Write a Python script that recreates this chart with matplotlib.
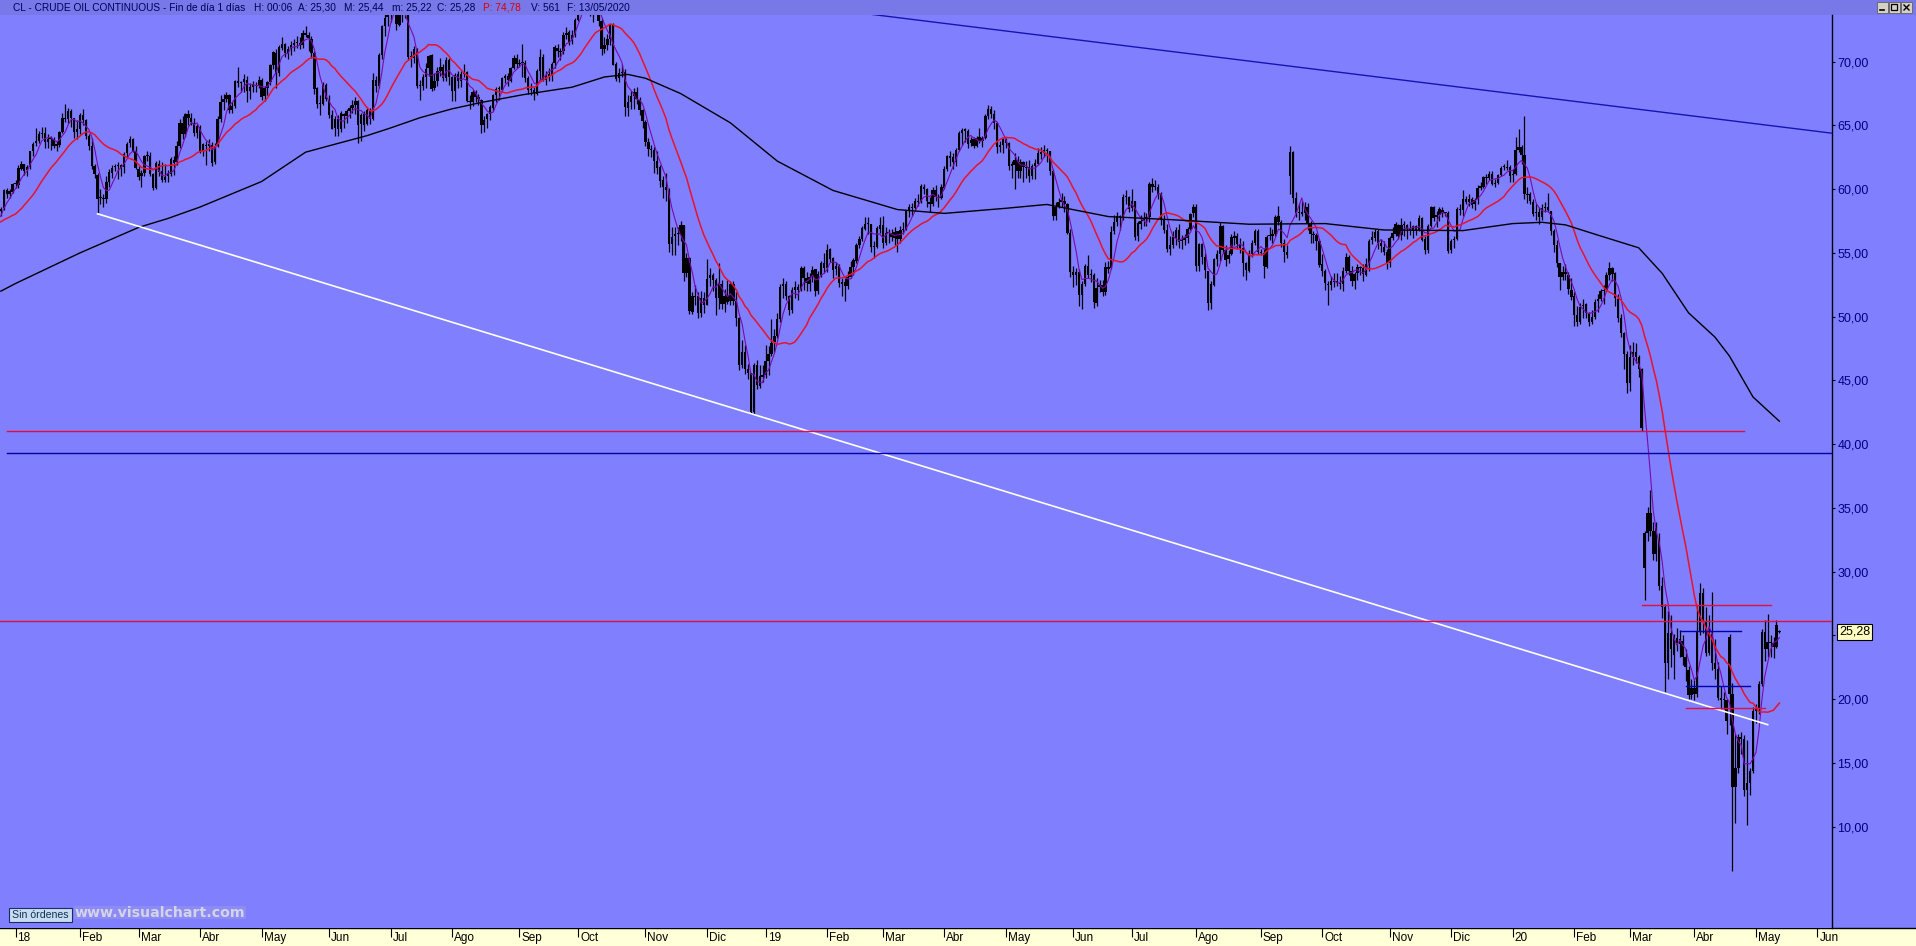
import matplotlib
matplotlib.use("Agg")
import matplotlib.pyplot as plt
import matplotlib.transforms as mtransforms
from matplotlib.patches import Rectangle
import numpy as np
import pandas as pd

plt.rcParams['font.family'] = ['Liberation Sans', 'DejaVu Sans']

# daily bars (open, high, low, close)
# Dec 2017 only warms up the moving averages
bars_2017 = [
    (57.4, 58.5, 57.2, 58.36), (58.3, 58.8, 57.3, 57.47), (57.5, 57.9, 57.0, 57.62), (57.6, 57.7, 55.8, 55.96), (56.0, 56.9, 55.9, 56.69),
    (56.7, 57.6, 56.6, 57.36), (57.4, 58.1, 57.2, 57.99), (58.0, 58.4, 56.9, 57.14), (57.1, 57.4, 56.1, 56.60), (56.6, 57.2, 56.4, 57.04),
    (57.0, 57.5, 56.9, 57.30), (57.3, 57.8, 57.1, 57.16), (57.2, 57.6, 56.9, 57.46), (57.5, 58.2, 57.3, 58.09), (58.1, 58.5, 57.7, 58.36),
    (58.3, 58.6, 57.9, 58.47), (58.5, 60.0, 58.4, 59.97), (59.9, 60.1, 59.3, 59.64), (59.6, 60.0, 59.3, 59.84), (59.8, 60.5, 59.7, 60.42),
]

bars_2018 = [
    # Jan
    (60.4, 60.7, 60.1, 60.37), (60.3, 61.9, 60.1, 61.63), (61.6, 62.2, 61.5, 62.01), (62.0, 62.0, 61.1, 61.44),
    (61.5, 61.9, 61.0, 61.73), (61.7, 63.0, 61.6, 62.96), (63.0, 63.7, 62.6, 63.57), (63.6, 64.8, 63.4, 63.80), (63.8, 64.6, 63.6, 64.30),
    (64.3, 64.9, 64.0, 64.40), (64.4, 64.9, 63.2, 63.73), (63.7, 64.3, 63.2, 63.95), (64.0, 64.2, 63.1, 63.97), (63.9, 64.1, 63.2, 63.37),
    (63.4, 63.8, 63.0, 63.57), (63.5, 64.6, 63.3, 64.47), (64.5, 66.0, 64.4, 65.61), (65.6, 66.7, 65.3, 65.51), (65.5, 66.4, 65.2, 66.14),
    (66.1, 66.3, 64.9, 65.56), (65.6, 65.6, 64.0, 64.50), (64.5, 65.4, 63.9, 64.73),
    # Feb
    (64.7, 66.0, 64.3, 65.80), (65.8, 66.3, 65.0, 65.45),
    (65.4, 65.5, 63.9, 64.15), (64.2, 64.3, 63.1, 63.39), (63.4, 64.0, 61.6, 61.79), (61.8, 62.0, 60.9, 61.15), (61.1, 61.3, 58.1, 59.20),
    (59.3, 60.0, 58.8, 59.29), (59.3, 59.6, 58.6, 59.19), (59.2, 61.0, 58.9, 60.60), (60.6, 61.6, 60.2, 61.34), (61.3, 61.9, 60.9, 61.68),
    (61.7, 62.0, 61.4, 61.80), (61.8, 62.1, 60.8, 61.90), (61.9, 62.0, 61.0, 61.68), (61.7, 62.9, 61.3, 62.77), (62.8, 63.7, 62.5, 63.55),
    (63.6, 64.2, 63.3, 63.91), (63.9, 64.0, 62.9, 63.01), (63.0, 63.4, 61.6, 61.64),
    # Mar
    (61.6, 61.8, 60.7, 60.99), (61.0, 61.5, 60.2, 61.25),
    (61.3, 62.7, 61.0, 62.57), (62.6, 63.0, 62.2, 62.60), (62.6, 62.9, 61.0, 61.15), (61.2, 61.3, 59.9, 60.12), (60.1, 62.2, 60.0, 62.04),
    (62.0, 62.3, 61.0, 61.36), (61.4, 62.1, 60.6, 60.71), (60.7, 62.0, 60.6, 60.96), (61.0, 61.5, 60.6, 61.19), (61.2, 62.5, 61.0, 62.34),
    (62.3, 62.6, 61.1, 62.06), (62.1, 63.8, 61.9, 63.40), (63.4, 65.5, 63.2, 65.17), (65.2, 65.7, 63.9, 64.30), (64.3, 66.0, 64.1, 65.88),
    (65.9, 66.2, 65.0, 65.55), (65.6, 66.0, 65.0, 65.25), (65.2, 65.6, 64.2, 64.38), (64.4, 65.1, 64.0, 64.94),
    # Apr
    (64.9, 65.0, 62.8, 63.01), (63.0, 63.6, 62.6, 63.51), (63.5, 63.8, 61.9, 63.37), (63.4, 63.9, 63.0, 63.54), (63.5, 63.7, 61.8, 62.06),
    (62.1, 63.6, 62.0, 63.42), (63.4, 65.7, 63.3, 65.51), (65.5, 67.4, 65.3, 66.82), (66.8, 67.5, 66.2, 67.07), (67.1, 67.6, 66.8, 67.39),
    (67.4, 67.5, 66.0, 66.22), (66.2, 66.8, 66.0, 66.52), (66.5, 68.6, 66.4, 68.47), (68.5, 69.6, 68.0, 68.29), (68.3, 68.5, 67.6, 68.38),
    (68.4, 69.0, 67.6, 68.64), (68.6, 68.9, 66.8, 67.70), (67.7, 68.3, 67.1, 68.05), (68.0, 68.5, 67.6, 68.19), (68.2, 68.4, 67.6, 68.10),
    (68.1, 68.9, 67.9, 68.57),
    # May
    (68.6, 68.7, 67.0, 67.25), (67.3, 68.1, 66.9, 67.93), (67.9, 68.5, 67.4, 68.43), (68.4, 69.8, 68.2, 69.72),
    (69.7, 70.8, 69.4, 70.73), (70.7, 71.0, 67.9, 69.06), (69.1, 71.3, 68.9, 71.14), (71.1, 71.9, 70.9, 71.36), (71.4, 71.5, 70.4, 70.70),
    (70.7, 71.2, 70.2, 70.96), (71.0, 71.6, 70.5, 71.31), (71.3, 71.8, 70.8, 71.49), (71.5, 72.0, 71.1, 71.49), (71.5, 71.9, 71.0, 71.28),
    (71.3, 72.5, 71.1, 72.24), (72.2, 72.8, 71.9, 72.13), (72.1, 72.3, 70.8, 71.84), (71.8, 72.0, 70.3, 70.71), (70.7, 70.8, 67.5, 67.88),
    (67.9, 68.0, 66.4, 66.70), (66.7, 67.4, 65.8, 66.73), (66.7, 68.4, 66.6, 68.21), (68.2, 68.3, 66.9, 67.04),
    # Jun
    (67.0, 67.4, 65.6, 65.81),
    (65.8, 66.2, 64.7, 64.75), (64.8, 65.7, 64.2, 65.52), (65.5, 65.8, 64.2, 64.73), (64.7, 66.1, 64.5, 65.95), (65.9, 66.0, 64.8, 65.74),
    (65.7, 66.3, 65.2, 66.10), (66.1, 66.6, 65.6, 66.36), (66.4, 67.0, 66.0, 66.64), (66.6, 67.2, 65.9, 66.89), (66.9, 67.0, 63.6, 65.06),
    (65.1, 66.0, 63.8, 65.85), (65.9, 66.1, 64.6, 65.07), (65.1, 66.4, 65.0, 66.22), (66.2, 66.4, 65.1, 65.54), (65.5, 69.1, 65.4, 68.58),
    (68.6, 68.9, 67.6, 68.08), (68.1, 70.7, 67.9, 70.53), (70.5, 72.9, 70.2, 72.76), (72.8, 73.8, 72.0, 73.45), (73.5, 74.5, 72.8, 74.15),
    # Jul
    (74.2, 75.3, 73.1, 73.94), (73.9, 75.0, 73.8, 74.14), (74.1, 74.3, 72.5, 72.94), (72.9, 74.0, 72.8, 73.80),
    (73.8, 74.4, 73.1, 73.85), (73.9, 74.7, 73.4, 74.11), (74.1, 74.2, 70.1, 70.38), (70.4, 70.8, 69.6, 70.33), (70.3, 71.2, 69.9, 71.01),
    (71.0, 71.1, 67.9, 68.06), (68.1, 68.6, 67.0, 68.08), (68.1, 69.0, 67.8, 68.76), (68.8, 69.9, 67.9, 69.46), (69.5, 70.5, 68.9, 70.46),
    (70.5, 70.6, 67.7, 67.89), (67.9, 69.1, 67.8, 68.52), (68.5, 69.6, 68.1, 69.30), (69.3, 70.3, 68.9, 69.61), (69.6, 69.8, 68.5, 68.69),
    (68.7, 70.4, 68.5, 70.13), (70.1, 70.3, 68.2, 68.76),
    # Aug
    (68.8, 68.9, 66.9, 67.66), (67.7, 69.1, 66.9, 68.96), (69.0, 69.3, 67.9, 68.49),
    (68.5, 69.3, 68.0, 69.01), (69.0, 69.8, 68.8, 69.17), (69.2, 69.3, 66.8, 66.94), (66.9, 67.4, 66.3, 66.81), (66.8, 67.8, 66.5, 67.63),
    (67.6, 67.8, 66.8, 67.20), (67.2, 67.5, 66.6, 67.04), (67.0, 67.1, 64.4, 65.01), (65.0, 65.7, 64.5, 65.46), (65.5, 66.0, 64.8, 65.91),
    (65.9, 66.6, 65.4, 66.43), (66.4, 67.5, 66.1, 67.35), (67.4, 68.0, 66.8, 67.86), (67.9, 68.1, 67.0, 67.83), (67.8, 68.8, 67.6, 68.72),
    (68.7, 69.0, 68.3, 68.87), (68.9, 69.1, 68.1, 68.53), (68.5, 69.6, 68.4, 69.51), (69.5, 70.5, 69.4, 70.25), (70.3, 70.6, 69.5, 69.80),
    # Sep
    (69.8, 70.2, 69.6, 69.90), (69.9, 71.4, 68.8, 69.87), (69.9, 70.1, 68.4, 68.72), (68.7, 68.9, 67.5, 67.77), (67.8, 68.3, 67.4, 67.75),
    (67.8, 68.0, 67.0, 67.54), (67.5, 69.4, 67.4, 69.25), (69.3, 71.0, 68.6, 70.37), (70.4, 70.6, 68.5, 68.59), (68.6, 69.3, 68.2, 68.99),
    (69.0, 69.5, 68.5, 68.91), (68.9, 70.0, 68.5, 69.85), (69.9, 71.3, 69.5, 71.12), (71.1, 71.4, 70.4, 70.80), (70.8, 71.1, 70.1, 70.78),
    (70.8, 72.3, 70.6, 72.08), (72.1, 72.7, 71.8, 72.28), (72.3, 72.5, 71.3, 71.57), (71.6, 72.5, 71.4, 72.12), (72.1, 73.4, 71.9, 73.25),
    # Oct
    (73.3, 75.6, 73.2, 75.30), (75.3, 75.9, 74.7, 75.23), (75.2, 76.9, 75.0, 76.41), (76.4, 76.5, 73.8, 74.33), (74.3, 74.8, 73.6, 74.34),
    (74.3, 74.9, 73.1, 74.29), (74.3, 75.3, 74.0, 74.96), (75.0, 75.2, 72.8, 73.17), (73.2, 73.4, 70.5, 70.97), (71.0, 71.9, 70.7, 71.34),
    (71.3, 72.2, 70.9, 71.78), (71.8, 72.9, 71.3, 72.92), (72.9, 73.0, 69.7, 69.75), (69.8, 70.0, 68.5, 68.65), (68.7, 69.5, 68.4, 69.12),
    (69.1, 69.8, 68.8, 69.17), (69.2, 69.4, 65.7, 66.43), (66.4, 67.4, 65.7, 66.82), (66.8, 67.7, 66.3, 67.33), (67.3, 67.9, 66.3, 67.59),
    (67.6, 68.0, 66.7, 67.04), (67.0, 67.2, 65.8, 66.18), (66.2, 66.3, 64.8, 65.31),
    # Nov
    (65.3, 65.4, 63.4, 63.69), (63.7, 64.0, 62.6, 63.14),
    (63.1, 63.5, 62.5, 63.10), (63.1, 63.3, 61.3, 62.21), (62.2, 63.0, 61.2, 61.67), (61.7, 61.9, 60.2, 60.67), (60.7, 61.0, 59.3, 60.19),
    (60.2, 61.3, 59.1, 59.93), (59.9, 60.1, 55.1, 55.69), (55.7, 57.0, 54.8, 56.25), (56.3, 57.0, 54.8, 56.46), (56.5, 57.0, 55.6, 56.46),
    (56.5, 57.5, 55.9, 57.20), (57.2, 57.2, 52.8, 53.43), (53.4, 55.0, 53.1, 54.63), (54.6, 54.7, 50.2, 50.42),
    (50.4, 51.9, 50.2, 51.63), (51.6, 52.5, 50.9, 51.56), (51.6, 51.9, 49.9, 50.29), (50.3, 52.0, 50.0, 51.45), (51.5, 51.9, 50.3, 50.93),
    # Dec
    (50.9, 54.5, 50.9, 52.95), (53.0, 53.8, 52.4, 53.25), (53.3, 53.4, 52.0, 52.89), (52.9, 53.0, 50.1, 51.49), (51.5, 54.2, 50.6, 52.61),
    (52.6, 52.9, 50.6, 51.00), (51.0, 52.2, 50.4, 51.65), (51.7, 52.9, 51.0, 51.15), (51.2, 52.8, 50.9, 52.58), (52.6, 52.8, 50.9, 51.20),
    (51.2, 51.9, 49.3, 49.88), (49.9, 50.0, 45.8, 46.24), (46.2, 48.2, 46.0, 47.20), (47.2, 47.8, 45.5, 45.88), (45.9, 46.3, 45.1, 45.59),
    (45.6, 45.6, 42.4, 42.53), (42.5, 46.4, 42.4, 46.22), (46.2, 46.6, 44.3, 44.61), (44.6, 46.2, 44.4, 45.33), (45.3, 46.2, 44.9, 45.41),
]

bars_2019 = [
    # Jan
    (45.4, 47.8, 45.2, 46.54), (46.5, 47.7, 45.4, 47.09), (47.1, 49.8, 46.9, 47.96),
    (48.0, 49.0, 47.2, 48.52), (48.5, 50.3, 48.3, 49.78), (49.8, 52.6, 49.6, 52.36), (52.4, 53.0, 51.5, 52.59), (52.6, 52.8, 51.3, 51.59),
    (51.6, 51.7, 50.1, 50.51), (50.5, 52.3, 50.3, 52.11), (52.1, 52.8, 51.5, 52.31), (52.3, 52.6, 51.3, 52.07), (52.1, 54.0, 52.0, 53.80),
    (53.8, 54.0, 52.1, 53.01), (53.0, 53.5, 52.0, 52.62), (52.6, 53.4, 52.0, 53.13), (53.1, 54.0, 52.7, 53.69),
    (53.7, 53.7, 51.6, 51.99), (52.0, 53.6, 51.8, 53.31), (53.3, 54.4, 53.1, 54.23), (54.2, 55.0, 53.4, 53.79),
    # Feb
    (53.8, 55.7, 53.5, 55.26),
    (55.3, 55.4, 54.3, 54.56), (54.6, 54.7, 53.0, 53.66), (53.7, 54.3, 53.3, 54.01), (54.0, 54.1, 52.3, 52.64), (52.6, 53.0, 51.6, 52.72),
    (52.7, 53.0, 51.2, 52.41), (52.4, 53.6, 52.2, 53.10), (53.1, 54.4, 53.0, 53.90), (53.9, 54.6, 53.3, 54.41), (54.4, 55.8, 54.2, 55.59),
    (55.6, 56.3, 55.4, 56.09), (56.1, 57.1, 55.9, 56.92), (56.9, 57.8, 56.8, 57.26), (57.3, 57.8, 56.5, 57.26),
    (57.3, 57.3, 55.1, 55.48), (55.5, 55.9, 54.6, 55.50), (55.5, 57.1, 55.4, 56.94), (56.9, 57.8, 56.6, 57.22),
    # Mar
    (57.2, 57.9, 55.4, 55.80),
    (55.8, 57.0, 55.6, 56.59), (56.6, 56.9, 55.8, 56.56), (56.6, 56.9, 55.9, 56.22), (56.2, 57.0, 55.6, 56.66), (56.7, 56.7, 55.1, 56.07),
    (56.1, 57.1, 55.8, 56.79), (56.8, 57.4, 56.5, 56.87), (56.9, 58.4, 56.8, 58.26), (58.3, 58.8, 57.8, 58.61), (58.6, 58.9, 57.9, 58.52),
    (58.5, 59.3, 58.4, 59.09), (59.1, 59.6, 58.7, 59.03), (59.0, 60.4, 58.9, 60.23), (60.2, 60.4, 59.6, 59.98), (60.0, 60.1, 58.6, 59.04),
    (59.0, 59.4, 58.2, 58.82), (58.8, 60.2, 58.7, 59.94), (59.9, 60.3, 59.1, 59.41), (59.4, 59.6, 58.6, 59.30), (59.3, 60.4, 59.2, 60.14),
    # Apr
    (60.1, 61.8, 60.0, 61.59), (61.6, 62.7, 61.4, 62.58), (62.6, 63.0, 61.8, 62.46), (62.5, 62.8, 61.6, 62.10), (62.1, 63.2, 61.8, 63.08),
    (63.1, 64.6, 63.0, 64.40), (64.4, 64.8, 63.5, 64.61), (64.6, 64.8, 63.7, 64.61), (64.6, 64.7, 63.2, 63.58), (63.6, 64.1, 63.4, 63.89),
    (63.9, 64.1, 63.2, 63.40), (63.4, 64.2, 63.3, 64.05), (64.1, 64.8, 63.6, 63.76), (63.8, 64.2, 63.3, 64.00),
    (64.0, 65.9, 63.9, 65.70), (65.7, 66.6, 65.5, 66.30), (66.3, 66.5, 65.6, 65.89), (65.9, 66.2, 64.7, 65.21), (65.2, 65.3, 62.8, 63.30),
    (63.3, 63.8, 62.9, 63.50), (63.5, 64.0, 62.8, 63.91),
    # May
    (63.9, 64.0, 63.2, 63.60), (63.6, 63.7, 61.5, 61.81), (61.8, 62.2, 60.9, 61.94),
    (61.9, 62.8, 60.0, 62.25), (62.3, 62.6, 60.9, 61.40), (61.4, 62.4, 60.9, 62.12), (62.1, 62.2, 60.6, 61.70), (61.7, 62.2, 60.9, 61.66),
    (61.7, 62.3, 60.6, 61.04), (61.0, 62.0, 60.8, 61.78), (61.8, 62.4, 60.8, 62.02), (62.0, 63.2, 61.9, 62.87), (62.9, 63.3, 62.4, 62.76),
    (62.8, 63.5, 62.5, 63.10), (63.1, 63.2, 62.1, 62.99), (63.0, 63.0, 61.1, 61.42), (61.4, 61.6, 57.6, 57.91), (57.9, 59.0, 57.6, 58.63),
    (58.6, 59.3, 58.5, 59.00), (59.0, 59.7, 58.6, 59.14), (59.1, 59.5, 58.2, 58.81), (58.8, 58.9, 56.5, 56.59), (56.6, 56.9, 53.1, 53.50),
    # Jun
    (53.5, 54.0, 52.3, 53.25), (53.3, 53.8, 52.5, 53.48), (53.5, 53.7, 50.8, 51.68), (51.7, 52.8, 50.6, 52.59), (52.6, 54.1, 52.4, 53.99),
    (54.0, 54.8, 53.0, 53.26), (53.3, 53.7, 52.7, 53.27), (53.3, 53.4, 50.7, 51.14), (51.1, 53.0, 50.8, 52.28), (52.3, 52.9, 51.9, 52.51),
    (52.5, 52.9, 51.6, 51.93), (51.9, 54.3, 51.7, 53.90), (53.9, 54.4, 53.4, 53.76), (53.8, 57.1, 53.7, 56.65), (56.7, 58.0, 56.5, 57.43),
    (57.4, 58.2, 57.1, 57.90), (57.9, 58.0, 56.8, 57.83), (57.8, 59.6, 57.6, 59.38), (59.4, 59.9, 58.8, 59.43), (59.4, 59.5, 58.2, 58.47),
    # Jul
    (58.5, 60.0, 58.3, 59.09), (59.1, 59.1, 56.0, 56.25), (56.3, 57.5, 55.9, 57.34), (57.3, 58.0, 56.9, 57.51),
    (57.5, 58.2, 57.1, 57.66), (57.7, 58.1, 57.1, 57.83), (57.8, 60.6, 57.4, 60.43), (60.4, 60.9, 59.8, 60.20), (60.2, 60.7, 59.9, 60.21),
    (60.2, 60.4, 59.2, 59.58), (59.6, 59.8, 57.2, 57.62), (57.6, 58.0, 56.6, 56.78), (56.8, 57.3, 55.1, 55.30), (55.3, 56.3, 54.8, 55.63),
    (55.6, 56.7, 55.4, 56.22), (56.2, 57.0, 55.6, 56.77), (56.8, 57.3, 55.4, 55.88), (55.9, 56.4, 55.3, 56.02), (56.0, 56.5, 55.6, 56.20),
    (56.2, 57.0, 55.8, 56.87), (56.9, 58.1, 56.8, 58.05), (58.1, 58.8, 57.8, 58.58),
    # Aug
    (58.6, 58.8, 53.6, 53.95), (54.0, 55.8, 53.6, 55.66),
    (55.7, 55.8, 54.1, 54.69), (54.7, 55.0, 53.0, 53.63), (53.6, 53.6, 50.5, 51.09), (51.1, 52.8, 50.6, 52.54), (52.5, 54.6, 52.4, 54.50),
    (54.5, 55.2, 54.0, 54.93), (54.9, 57.4, 54.4, 57.10), (57.1, 57.2, 55.0, 55.23), (55.2, 55.6, 54.0, 54.47), (54.5, 55.2, 54.2, 54.87),
    (54.9, 56.5, 54.8, 56.21), (56.2, 56.7, 55.6, 56.34), (56.3, 56.6, 55.3, 55.68), (55.7, 56.2, 55.0, 55.35), (55.4, 55.9, 53.2, 54.17),
    (54.2, 54.3, 52.9, 53.64), (53.6, 55.2, 53.5, 54.93), (54.9, 56.0, 54.7, 55.78), (55.8, 56.9, 55.6, 56.71), (56.7, 56.9, 54.9, 55.10),
    # Sep
    (55.1, 55.3, 54.8, 55.00), (55.0, 55.3, 53.0, 53.94), (53.9, 56.4, 53.8, 56.26), (56.3, 57.0, 56.0, 56.30), (56.3, 56.9, 55.8, 56.52),
    (56.5, 58.0, 56.3, 57.85), (57.9, 58.7, 57.2, 57.40), (57.4, 57.6, 55.5, 55.75), (55.8, 56.1, 54.3, 55.09), (55.1, 55.6, 54.6, 54.85),
    (61.0, 63.4, 59.6, 62.90), (62.9, 63.0, 58.9, 59.34), (59.3, 59.8, 57.8, 58.11), (58.1, 58.9, 57.6, 58.13), (58.1, 59.1, 57.9, 58.09),
    (58.1, 59.0, 57.6, 58.64), (58.6, 58.9, 56.8, 57.29), (57.3, 57.5, 55.8, 56.49), (56.5, 56.7, 55.8, 56.41), (56.4, 56.6, 55.2, 55.91),
    (55.9, 56.1, 53.9, 54.07),
    # Oct
    (54.1, 54.9, 53.2, 53.62), (53.6, 53.7, 52.1, 52.64), (52.6, 52.8, 50.9, 52.45), (52.5, 53.2, 52.1, 52.81),
    (52.8, 53.4, 52.3, 52.75), (52.8, 53.4, 52.4, 52.63), (52.6, 53.2, 52.2, 52.59), (52.6, 53.9, 52.0, 53.55), (53.6, 55.0, 53.4, 54.70),
    (54.7, 54.8, 53.3, 53.59), (53.6, 54.0, 52.4, 52.81), (52.8, 53.5, 52.2, 53.36), (53.4, 54.1, 52.9, 53.93), (53.9, 54.0, 53.3, 53.78),
    (53.8, 54.1, 52.8, 53.31), (53.3, 54.6, 53.2, 54.16), (54.2, 56.1, 53.6, 55.97), (56.0, 56.7, 55.7, 56.23), (56.2, 56.9, 55.9, 56.66),
    (56.7, 56.9, 55.3, 55.81), (55.8, 56.1, 55.1, 55.54), (55.5, 55.9, 54.8, 55.06), (55.1, 55.3, 53.7, 54.18),
    # Nov
    (54.2, 56.3, 53.9, 56.20),
    (56.2, 57.0, 56.0, 56.54), (56.5, 57.4, 56.3, 57.23), (57.2, 57.3, 56.1, 56.35), (56.4, 57.7, 56.0, 57.15), (57.2, 57.5, 56.3, 57.24),
    (57.2, 57.3, 56.1, 56.86), (56.9, 57.5, 56.4, 56.80), (56.8, 57.2, 56.2, 57.12), (57.1, 57.2, 56.4, 56.77), (56.8, 58.0, 56.7, 57.72),
    (57.7, 57.8, 55.9, 56.05), (56.1, 56.3, 54.9, 55.21), (55.2, 57.3, 55.0, 57.11), (57.1, 58.7, 57.0, 58.58), (58.6, 58.7, 57.5, 57.77),
    (57.8, 58.3, 57.0, 58.01), (58.0, 58.6, 57.5, 58.41), (58.4, 58.6, 57.8, 58.11), (58.1, 58.2, 57.9, 58.10), (58.1, 58.3, 55.0, 55.17),
    # Dec
    (55.2, 56.1, 55.0, 55.96), (56.0, 56.3, 55.4, 56.10), (56.1, 58.6, 56.0, 58.43), (58.4, 58.8, 58.0, 58.43), (58.4, 59.9, 57.9, 59.20),
    (59.2, 59.5, 58.8, 59.02), (59.0, 59.6, 58.7, 59.24), (59.2, 59.4, 58.5, 58.76), (58.8, 59.3, 58.4, 59.18), (59.2, 60.3, 58.8, 60.07),
    (60.1, 60.6, 59.9, 60.21), (60.2, 61.0, 60.1, 60.94), (60.9, 61.2, 60.4, 60.93), (60.9, 61.4, 60.7, 61.22), (61.2, 61.4, 60.3, 60.44),
    (60.4, 60.8, 60.2, 60.52), (60.5, 61.2, 60.4, 61.11), (61.1, 61.8, 61.0, 61.68), (61.7, 62.0, 61.5, 61.72),
    (61.7, 62.3, 61.5, 61.68), (61.7, 61.9, 60.6, 61.06),
]

bars_2020 = [
    # Jan
    (61.1, 61.6, 60.6, 61.18), (61.2, 64.1, 61.1, 63.05),
    (63.1, 64.7, 62.9, 63.27), (63.3, 63.5, 62.0, 62.70), (62.7, 65.7, 59.2, 59.61), (59.6, 60.2, 58.9, 59.56), (59.6, 59.8, 58.8, 59.04),
    (59.0, 59.2, 57.9, 58.08), (58.1, 58.8, 57.6, 58.23), (58.2, 58.6, 57.3, 57.81), (57.8, 58.8, 57.6, 58.52), (58.5, 59.0, 58.2, 58.54),
    (58.6, 59.7, 58.2, 58.34), (58.3, 58.3, 56.4, 56.74), (56.7, 56.9, 55.1, 55.59), (55.6, 56.0, 53.9, 54.19),
    (54.2, 54.2, 52.1, 53.14), (53.1, 54.0, 52.9, 53.48), (53.5, 54.1, 52.9, 53.33), (53.3, 53.5, 51.8, 52.14), (52.1, 53.0, 51.3, 51.56),
    # Feb
    (51.6, 51.9, 49.3, 50.11), (50.1, 50.8, 49.3, 49.61), (49.6, 51.1, 49.4, 50.75), (50.8, 51.4, 49.9, 50.95), (51.0, 51.1, 49.9, 50.32),
    (50.3, 50.4, 49.3, 49.57), (49.6, 50.5, 49.4, 49.94), (50.0, 51.4, 49.8, 51.17), (51.2, 51.8, 50.4, 51.42), (51.4, 52.2, 51.2, 52.05),
    (52.1, 52.5, 51.0, 52.05), (52.1, 53.5, 52.0, 53.29), (53.3, 54.3, 52.9, 53.78), (53.8, 53.9, 52.8, 53.38),
    (53.4, 53.5, 50.8, 51.43), (51.4, 51.8, 49.6, 49.90), (49.9, 50.2, 48.4, 48.73), (48.7, 48.8, 45.9, 47.09), (47.1, 47.3, 44.0, 44.76),
    # Mar
    (44.8, 47.8, 44.2, 46.80), (46.8, 48.0, 46.2, 47.20), (47.2, 47.9, 46.4, 46.80), (46.8, 47.0, 45.3, 45.90), (45.9, 46.0, 41.0, 41.30),
    (30.3, 33.2, 27.8, 33.00), (33.0, 35.1, 32.4, 34.60), (34.6, 36.4, 32.8, 33.20), (33.2, 33.9, 30.9, 31.40), (31.4, 33.9, 30.8, 33.40),
    (32.6, 33.0, 28.6, 28.90), (28.9, 29.6, 26.4, 27.20), (27.2, 27.5, 20.6, 22.80), (22.8, 26.9, 21.6, 25.20), (25.2, 26.6, 22.5, 23.90),
    (23.5, 25.1, 21.6, 24.90), (24.8, 25.6, 23.8, 24.40), (24.3, 25.4, 23.3, 24.70), (24.6, 25.0, 22.7, 23.30), (23.3, 23.9, 21.4, 22.50),
    (22.3, 22.6, 20.0, 20.30), (20.3, 21.6, 20.0, 20.90),
    # Apr
    (20.9, 21.5, 19.9, 20.40), (20.4, 27.3, 20.2, 25.30), (25.3, 29.1, 25.0, 28.30),
    (28.3, 28.7, 25.2, 26.10), (26.1, 27.2, 23.4, 23.60), (23.6, 26.6, 23.5, 25.10), (25.1, 28.4, 22.3, 22.80),
    (22.8, 24.7, 21.6, 22.40), (22.4, 22.9, 19.9, 20.10), (20.1, 21.0, 19.2, 19.90), (19.9, 20.6, 19.2, 19.90), (19.9, 20.0, 17.3, 18.30),
    (24.9, 25.1, 18.0, 20.40), (20.4, 21.3, 6.5, 13.10), (13.1, 17.3, 10.3, 14.60), (14.6, 17.3, 14.2, 17.00), (17.0, 17.4, 15.7, 16.90),
    (16.9, 17.2, 12.4, 12.90), (12.9, 16.8, 10.1, 13.40), (13.4, 14.6, 12.5, 14.40), (14.4, 19.4, 14.2, 19.10),
    # May
    (19.1, 19.6, 18.1, 19.30),
    (19.3, 21.4, 18.8, 21.20), (21.2, 25.5, 21.0, 25.30), (25.3, 26.2, 23.0, 23.90), (23.9, 26.7, 23.3, 24.50), (24.5, 25.0, 23.3, 24.40),
    (24.4, 24.9, 23.2, 24.10), (24.1, 26.2, 24.0, 25.80), (25.30, 25.44, 25.22, 25.28),
]

# days with no bar in this feed
holidays = ["2017-12-25", "2018-01-01", "2018-03-30", "2018-07-04", "2018-11-22", "2018-12-25",
            "2019-01-01", "2019-01-21", "2019-02-18", "2019-04-19", "2019-07-04", "2019-12-25",
            "2020-01-01", "2020-01-20", "2020-02-17", "2020-04-10"]

month_names = ["", "Feb", "Mar", "Abr", "May", "Jun", "Jul", "Ago", "Sep", "Oct", "Nov", "Dic"]

# slow (black) average
slow_dates = ["2017-12-22", "2018-01-02", "2018-02-01", "2018-03-01", "2018-03-15", "2018-04-02", "2018-05-01",
              "2018-05-22", "2018-06-01", "2018-06-20", "2018-07-02", "2018-07-17", "2018-08-01", "2018-08-15",
              "2018-09-04", "2018-09-27", "2018-10-12", "2018-10-24", "2018-11-01", "2018-11-19", "2018-12-13",
              "2019-01-08", "2019-02-05", "2019-03-08", "2019-04-01", "2019-05-01", "2019-05-21", "2019-06-19",
              "2019-07-22", "2019-08-27", "2019-10-02", "2019-10-30", "2019-12-06", "2020-01-02", "2020-01-16",
              "2020-01-29", "2020-02-13", "2020-03-05", "2020-03-17", "2020-03-30", "2020-04-13", "2020-04-20",
              "2020-04-30", "2020-05-13"]
slow_values = [52.0, 52.6, 55.0, 57.0, 57.7, 58.6, 60.6,
               62.9, 63.4, 64.2, 64.8, 65.6, 66.3, 66.8,
               67.4, 68.0, 68.8, 69.0, 68.7, 67.5, 65.2,
               62.2, 59.9, 58.4, 58.1, 58.5, 58.8, 57.85,
               57.6, 57.25, 57.3, 56.8, 56.75, 57.3, 57.4,
               57.2, 56.4, 55.4, 53.4, 50.3, 48.4, 46.9,
               43.7, 41.8]

# drawn trend lines (date, price)
white_trend = [("2018-02-09", 58.07), ("2020-05-07", 18.0)]
blue_trend = [("2018-10-03", 76.5), ("2020-05-13", 64.9)]
# horizontal levels (from, to, price); None runs to the chart edge
red_levels = [("2017-12-27", "2020-04-27", 41.04), (None, None, 26.13),
              ("2020-03-06", "2020-05-08", 27.37), ("2020-03-27", "2020-05-06", 19.29)]
blue_levels = [("2017-12-27", None, 39.29), ("2020-03-25", "2020-04-24", 25.35),
               ("2020-03-27", "2020-04-29", 21.01)]

last_price = 25.28

# ---------------------------------------------------------------------------
W, H = 1916, 946
BG = "#8080ff"

cal = pd.bdate_range("2017-12-01", "2020-06-30")
cal = cal[~cal.isin(pd.to_datetime(holidays))]
zero = cal.get_loc(pd.Timestamp("2018-01-02"))


def xpos(d):
    return cal.get_loc(pd.Timestamp(d)) - zero


frames = []
for year, bars in [(2017, bars_2017), (2018, bars_2018), (2019, bars_2019), (2020, bars_2020)]:
    days = cal[cal.year == year][:len(bars)]
    frames.append(pd.DataFrame(bars[:len(days)], index=days, columns=["o", "h", "l", "c"]))
df = pd.concat(frames)
pos = cal.get_indexer(df.index) - zero

ma_fast = df["c"].rolling(5, min_periods=1).mean()
ma_mid = df["c"].rolling(20, min_periods=1).mean()

fig = plt.figure(figsize=(W / 100, H / 100), dpi=100, facecolor=BG)
ax = fig.add_axes([0, (H - 927.5) / H, 1832 / W, (927.5 - 15) / H], facecolor=BG)
x_lo, x_hi = -15.5 / 2.93, (1832 - 15.5) / 2.93
ax.set_xlim(x_lo, x_hi)
ax.set_ylim(2.09, 73.66)

# candles
ax.vlines(pos, df["l"], df["h"], color="black", lw=0.9, zorder=2)
body_lo = np.minimum(df["o"], df["c"])
body_h = np.maximum(np.abs(df["c"] - df["o"]), 0.08)
ax.bar(pos, body_h, bottom=body_lo, width=0.8, color="black", linewidth=0, zorder=2)

# averages
ax.plot(pos, ma_fast, color="#7a0aa8", lw=0.8, zorder=3)
ax.plot(pos, ma_mid, color="#e8122e", lw=1.1, zorder=3)
ax.plot([xpos(d) for d in slow_dates], slow_values, color="black", lw=1.0, zorder=3)

# trend lines
ax.plot([xpos(d) for d, _ in white_trend], [v for _, v in white_trend], color="white", lw=1.2, zorder=4)
(d1, v1), (d2, v2) = blue_trend
bx1, bx2 = xpos(d1), xpos(d2)
slope = (v2 - v1) / (bx2 - bx1)
ax.plot([bx1, x_hi], [v1, v1 + slope * (x_hi - bx1)], color="#1414b4", lw=1.0, zorder=4)


def level(start, end, price, colour):
    xa = x_lo if start is None else xpos(start)
    xb = x_hi if end is None else xpos(end)
    ax.plot([xa, xb], [price, price], color=colour, lw=1.0, zorder=4)


for s, e, p in red_levels:
    level(s, e, p, "#e0103c")
for s, e, p in blue_levels:
    level(s, e, p, "#0000a8")

# axes: price scale on the right, months below
for side in ["top", "left", "bottom"]:
    ax.spines[side].set_visible(False)
ax.spines["right"].set_color("black")
ax.spines["right"].set_linewidth(1.0)

yt = np.arange(10, 71, 5)
ax.yaxis.tick_right()
ax.set_yticks(yt)
# the 25 label sits under the last-price tag, so it is left blank
ax.set_yticklabels(["" if v == 25 else f"{v:.2f}".replace(".", ",") for v in yt])
ax.tick_params(axis="y", direction="out", length=2.5, width=0.8, pad=1.5,
               labelsize=9, labelcolor="#000080", color="black")

firsts = cal.to_series().groupby(cal.to_period("M")).first()
firsts = firsts[firsts >= pd.Timestamp("2018-01-01")]
ax.set_xticks(cal.get_indexer(firsts) - zero)
ax.set_xticklabels([f"{d.year % 100:02d}" if d.month == 1 else month_names[d.month - 1] for d in firsts])
ax.tick_params(axis="x", direction="out", length=6.5, width=0.8, pad=-3.2,
               labelsize=8.5, labelcolor="black", color="black")
shift = mtransforms.ScaledTranslation(2 / 100, 0, fig.dpi_scale_trans)
for lab in ax.get_xticklabels():
    lab.set_horizontalalignment("left")
    lab.set_transform(lab.get_transform() + shift)

# last price tag
tag_tr = mtransforms.blended_transform_factory(ax.transAxes, ax.transData) + \
    mtransforms.ScaledTranslation(7 / 100, 0, fig.dpi_scale_trans)
ax.text(1.0, last_price, f"{last_price:.2f}".replace(".", ","), transform=tag_tr, ha="left", va="center",
        fontsize=9, color="black", clip_on=False, zorder=10,
        bbox=dict(boxstyle="square,pad=0.15", fc="#ffffc0", ec="black", lw=0.8))

# window furniture drawn in pixel space
back = fig.add_axes([0, 0, 1, 1], zorder=-1)
back.set_xlim(0, W)
back.set_ylim(H, 0)
back.axis("off")
back.add_patch(Rectangle((0, 0), W, 15, color="#7878e8", lw=0))
back.add_patch(Rectangle((0, 927.5), W, H - 927.5, color="#ffffd8", lw=0))
back.plot([0, W], [927.5, 927.5], color="black", lw=1.0)

header = [("CL - CRUDE OIL CONTINUOUS - Fin de día 1 días", 13.4, "#00005a"),
          ("H: 00:06", 253.6, "#00005a"), ("A: 25,30", 298, "#00005a"), ("M: 25,44", 343.8, "#00005a"),
          ("m: 25,22", 392, "#00005a"), ("C: 25,28", 437.5, "#00005a"), ("P: 74,78", 483.5, "#e00000"),
          ("V: 561", 531, "#00005a"), ("F: 13/05/2020", 567, "#00005a")]
for txt, x, col in header:
    back.text(x, 7.8, txt, ha="left", va="center", fontsize=7.3, color=col)

for i, bx in enumerate([1877, 1889, 1901]):
    back.add_patch(Rectangle((bx, 2), 11, 11, fc="#d4d0c8", ec="#606060", lw=0.6))
    if i == 0:
        back.plot([bx + 3, bx + 7], [10.5, 10.5], color="black", lw=1.2)
    elif i == 1:
        back.add_patch(Rectangle((bx + 2.5, 4.5), 6, 6, fc="none", ec="black", lw=0.9))
    else:
        back.plot([bx + 3, bx + 8], [5, 10], color="black", lw=1.0)
        back.plot([bx + 3, bx + 8], [10, 5], color="black", lw=1.0)

front = fig.add_axes([0, 0, 1, 1], zorder=5)
front.set_xlim(0, W)
front.set_ylim(H, 0)
front.axis("off")
front.patch.set_alpha(0)
front.add_patch(Rectangle((9.3, 908.3), 62.4, 13.4, fc="#c8dcf0", ec="#1a2a6a", lw=0.8))
front.text(40.5, 915.3, "Sin órdenes", ha="center", va="center", fontsize=7.6, color="#103058")
front.add_patch(Rectangle((74, 906.0), 172, 13, fc="#8c8cf4", lw=0))
front.text(75, 912.6, "www.visualchart.com", ha="left", va="center", fontsize=10.2,
           fontweight="bold", family="DejaVu Sans", color="#d4d4e8")

fig.savefig("out.png", dpi=100, facecolor=BG)
